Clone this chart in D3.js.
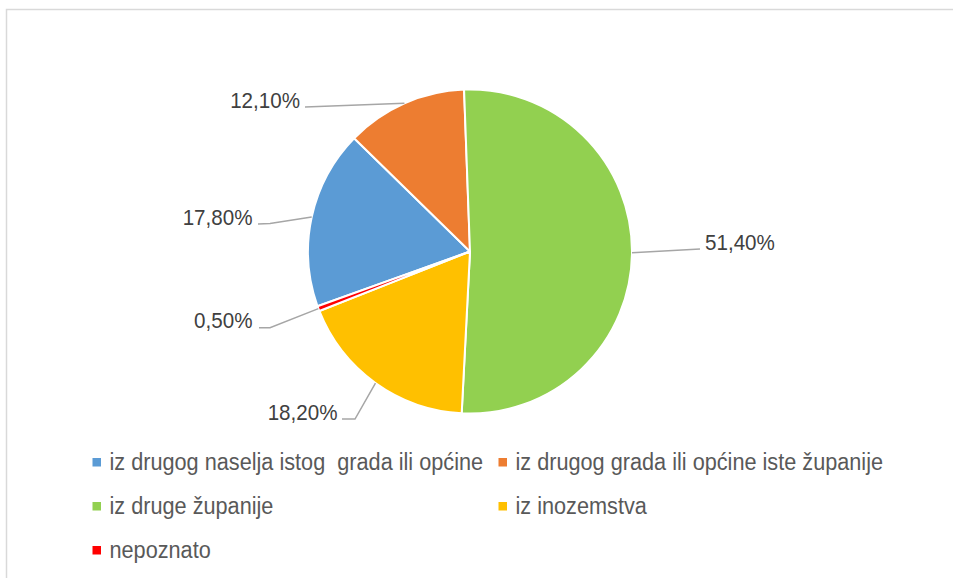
<!DOCTYPE html>
<html>
<head>
<meta charset="utf-8">
<script src="https://cdn.jsdelivr.net/npm/d3@7"></script>
<style>
  html, body { margin: 0; padding: 0; background: #fff; }
  svg { display: block; }
</style>
</head>
<body>
<script>
// ---- data ----
const categories = [
  "iz drugog naselja istog  grada ili općine",
  "iz drugog grada ili općine iste županije",
  "iz druge županije",
  "iz inozemstva",
  "nepoznato"
];
const values = [17.8, 12.1, 51.4, 18.2, 0.5];
const colors = ["#5B9BD5", "#ED7D31", "#92D050", "#FFC000", "#FF0000"];

// ---- layout ----
const W = 953, H = 578;
const cx = 470, cy = 251.5, R = 162;
const firstSliceAngle = -109.74; // degrees

// label layout relative to pie centre: text anchor point + leader start/elbow
const labelLayout = [
  { tx: -217.5, ty: -26.5, anchor: "end",   pts: [[-212, -27.5], [-200, -28]] },
  { tx: -170,   ty: -143.5, anchor: "end",  pts: [[-165, -144.5]] },
  { tx: 235,    ty: -1.5,  anchor: "start", pts: [[230, -2.5]] },
  { tx: -132.5, ty: 168.5, anchor: "end",   pts: [[-128, 167.5], [-115, 167.5]] },
  { tx: -217.5, ty: 76.5,  anchor: "end",   pts: [[-211, 76.2], [-200, 76.2]] }
];

const fmt = v => d3.format(".2f")(v).replace(".", ",") + "%";

const svg = d3.select("body").append("svg")
  .attr("width", W).attr("height", H);

svg.append("rect").attr("width", W).attr("height", H).attr("fill", "#fff");

// frame (right and bottom edges fall outside the picture)
svg.append("rect")
  .attr("x", 6.5).attr("y", 9.5)
  .attr("width", 980).attr("height", 620)
  .attr("fill", "none")
  .attr("stroke", "#d9d9d9")
  .attr("stroke-width", 1.5);

const pie = d3.pie().sort(null).value(d => d)
  .startAngle(firstSliceAngle * Math.PI / 180)
  .endAngle(firstSliceAngle * Math.PI / 180 + 2 * Math.PI);
const arcs = pie(values);

const arc = d3.arc().innerRadius(0).outerRadius(R);
const edge = d3.arc().innerRadius(R).outerRadius(R);

const g = svg.append("g").attr("transform", `translate(${cx},${cy})`);

g.selectAll("path.slice").data(arcs).join("path")
  .attr("class", "slice")
  .attr("d", arc)
  .attr("fill", (d, i) => colors[i])
  .attr("stroke", "#fff")
  .attr("stroke-width", 2)
  .attr("stroke-linejoin", "round");

// leader lines
const line = d3.line();
g.selectAll("path.leader").data(arcs).join("path")
  .attr("class", "leader")
  .attr("d", (d, i) => line([...labelLayout[i].pts, edge.centroid(d)]))
  .attr("fill", "none")
  .attr("stroke", "#a6a6a6")
  .attr("stroke-width", 1.5);

// data labels
g.selectAll("text.lbl").data(arcs).join("text")
  .attr("class", "lbl")
  .attr("transform", (d, i) => `translate(${labelLayout[i].tx},${labelLayout[i].ty}) scale(1,1.06)`)
  .attr("text-anchor", (d, i) => labelLayout[i].anchor)
  .attr("font-family", "'Liberation Sans', Arial, sans-serif")
  .attr("font-size", 20.6)
  .attr("fill", "#404040")
  .text(d => fmt(d.data));

// legend
const legendCols = [92.5, 498.5];
const legendRows = [470, 514, 558];
const legend = svg.append("g");
categories.forEach((c, i) => {
  const col = i % 2, row = Math.floor(i / 2);
  const x = legendCols[col], y = legendRows[row];
  legend.append("rect")
    .attr("x", x).attr("y", y - 12)
    .attr("width", 8.5).attr("height", 8.5)
    .attr("fill", colors[i]);
  legend.append("text")
    .attr("transform", `translate(${x + 17},${y}) scale(1,1.12)`)
    .attr("font-family", "'Liberation Sans', Arial, sans-serif")
    .attr("font-size", 21.7)
    .attr("fill", "#595959")
    .style("white-space", "pre")
    .attr("xml:space", "preserve")
    .text(c);
});
</script>
</body>
</html>
